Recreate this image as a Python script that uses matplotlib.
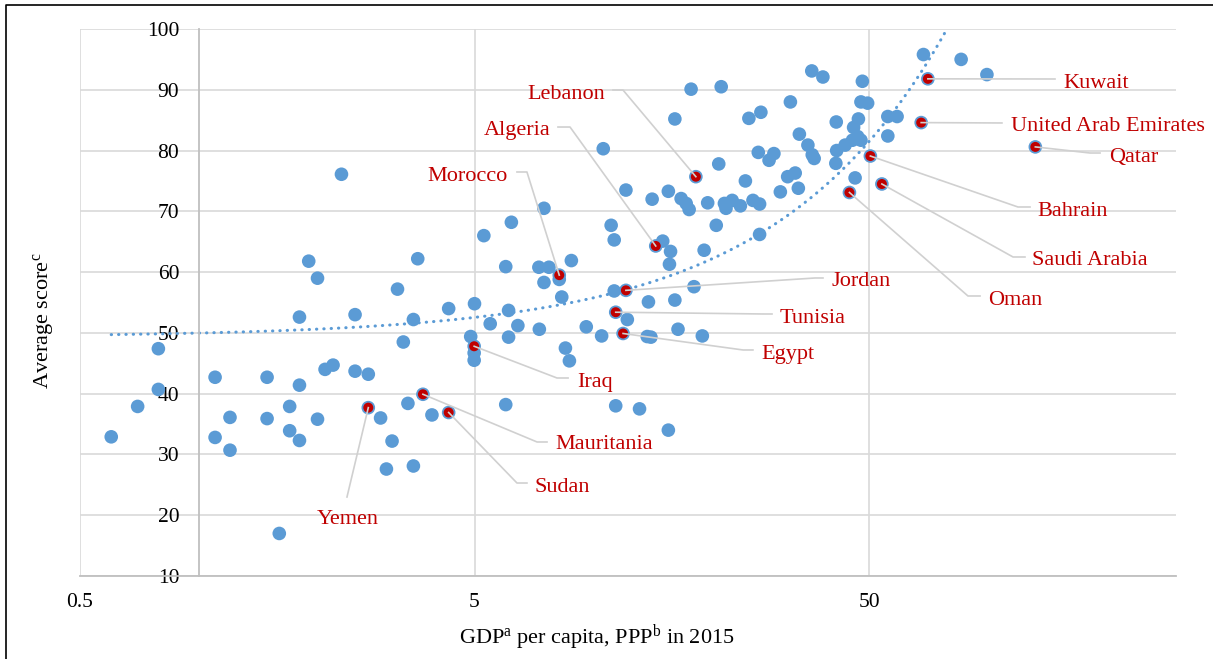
import matplotlib.pyplot as plt
import numpy as np
from matplotlib.lines import Line2D
from matplotlib.ticker import NullLocator

plt.rcParams['font.family'] = ['Liberation Serif', 'DejaVu Serif']
plt.rcParams['mathtext.fontset'] = 'custom'
plt.rcParams['mathtext.rm'] = 'Liberation Serif'
plt.rcParams['mathtext.it'] = 'Liberation Serif:italic'

# ---- data: GDP per capita (PPP, thousand $) and average score ----
other_gdp = [
    0.60, 0.70, 0.79, 0.79, 1.10, 1.10, 1.20, 1.20, 1.49, 1.49,
    1.70, 1.70, 1.80, 1.80, 1.80, 1.90, 2.00, 2.00, 1.60, 2.30,
    3.59, 6.00, 5.28, 3.19, 2.49, 3.50, 4.30, 5.00, 5.48, 6.10,
    6.44, 6.10, 3.30, 4.89, 4.99, 4.99, 2.09, 2.19, 2.49, 2.69,
    3.39, 2.89, 3.90, 3.09, 2.99, 3.50, 6.00, 7.50, 6.20, 12.1,
    14.1, 15.5, 16.7, 17.2, 17.5, 19.5, 21.5, 21.7, 22.5, 23.6,
    20.5, 11.1, 11.3, 15.0, 15.7, 15.6, 19.1, 7.28, 7.72, 8.80,
    8.20, 7.50, 8.32, 7.30, 8.50, 8.70, 9.60, 10.5, 11.3, 12.2,
    13.8, 13.7, 14.0, 16.1, 16.4, 18.0, 18.9, 11.4, 13.1, 15.5,
    10.6, 17.7, 21.1, 16.1, 31.6, 24.8, 26.6, 20.8, 26.2, 28.7,
    27.9, 24.3, 25.4, 26.4, 29.8, 31.1, 32.5, 33.1, 33.3, 26.4,
    35.8, 38.2, 48.1, 47.7, 49.6, 41.3, 47.0, 45.7, 35.0, 46.8,
    47.7, 45.4, 43.5, 41.4, 41.2, 36.3, 35.9, 46.1, 55.8, 58.9,
    55.8, 68.7, 85.6, 99.5,
]
other_score = [
    32.9, 37.9, 47.4, 40.7, 42.7, 32.8, 36.1, 30.7, 42.7, 35.9,
    37.9, 33.9, 41.4, 32.3, 52.6, 61.8, 59.0, 35.8, 17.0, 76.1,
    62.2, 60.9, 66.0, 57.2, 53.0, 52.2, 54.0, 54.8, 51.5, 53.7,
    51.2, 49.3, 48.5, 49.4, 46.7, 45.5, 44.0, 44.7, 43.7, 43.2,
    38.4, 36.0, 36.5, 32.2, 27.6, 28.1, 38.2, 70.5, 68.2, 73.5,
    72.0, 73.3, 72.1, 71.3, 70.3, 71.4, 71.3, 70.5, 71.8, 70.9,
    67.7, 67.7, 65.3, 65.1, 63.4, 61.3, 63.6, 60.8, 60.8, 61.9,
    58.8, 58.3, 55.9, 50.6, 47.5, 45.4, 51.0, 49.5, 56.9, 52.2,
    55.1, 49.4, 49.3, 55.4, 50.6, 57.6, 49.5, 38.0, 37.5, 34.0,
    80.3, 90.1, 90.5, 85.2, 88.0, 85.3, 86.3, 77.8, 79.7, 79.5,
    78.4, 75.0, 71.8, 71.2, 73.2, 75.7, 76.3, 73.8, 82.7, 66.2,
    93.1, 92.1, 91.4, 88.0, 87.8, 84.7, 85.2, 83.8, 80.9, 82.3,
    81.7, 81.7, 80.9, 80.0, 77.9, 78.7, 79.3, 75.5, 85.6, 85.6,
    82.4, 95.8, 95.0, 92.5,
]

arab_names = ['Lebanon', 'Algeria', 'Morocco', 'Jordan', 'Tunisia', 'Egypt',
              'Iraq', 'Mauritania', 'Sudan', 'Yemen', 'Kuwait',
              'United Arab Emirates', 'Qatar', 'Bahrain', 'Saudi Arabia', 'Oman']
arab_gdp = [18.2, 14.4, 8.2, 12.1, 11.4, 11.9, 4.99, 3.70, 4.30, 2.69,
            70.5, 67.8, 132.0, 50.4, 53.9, 44.6]
arab_score = [75.7, 64.3, 59.5, 57.0, 53.4, 49.9, 47.8, 39.9, 36.9, 37.7,
              91.8, 84.6, 80.6, 79.1, 74.5, 73.1]

# label layout in axes fraction: text anchor, ha, leader polyline (elbow, end)
label_layout = {
    'Lebanon':      ((0.479, 0.881), 'right', [(0.4954, 0.8885), (0.4863, 0.8885)]),
    'Algeria':      ((0.429, 0.815), 'right', [(0.4471, 0.8208), (0.4361, 0.8208)]),
    'Morocco':      ((0.3905, 0.731), 'right', [(0.4078, 0.7386), (0.3987, 0.7386)]),
    'Jordan':       ((0.6861, 0.539), 'left', [(0.6706, 0.5448), (0.6779, 0.5448)]),
    'Tunisia':      ((0.6387, 0.4713), 'left', [(0.6232, 0.479), (0.6314, 0.479)]),
    'Egypt':        ((0.6214, 0.4055), 'left', [(0.605, 0.4132), (0.614, 0.4132)]),
    'Iraq':         ((0.4535, 0.3543), 'left', [(0.4352, 0.362), (0.4453, 0.362)]),
    'Mauritania':   ((0.4334, 0.241), 'left', [(0.417, 0.245), (0.4261, 0.245)]),
    'Sudan':        ((0.4151, 0.1624), 'left', [(0.3987, 0.170), (0.4078, 0.170)]),
    'Yemen':        ((0.2445, 0.1039), 'center', [(0.2436, 0.1444)]),
    'Kuwait':       ((0.8969, 0.901), 'left', [(0.8896, 0.9086)]),
    'United Arab Emirates': ((0.8495, 0.8223), 'left', [(0.8412, 0.8282)]),
    'Qatar':        ((0.9389, 0.7657), 'left', [(0.9215, 0.7733), (0.9307, 0.7733)]),
    'Bahrain':      ((0.8732, 0.6669), 'left', [(0.8558, 0.6746), (0.8668, 0.6746)]),
    'Saudi Arabia': ((0.8686, 0.5774), 'left', [(0.8513, 0.5832), (0.8622, 0.5832)]),
    'Oman':         ((0.8285, 0.5042), 'left', [(0.8102, 0.5119), (0.8212, 0.5119)]),
}

C_BLUE = '#5B9BD5'
C_RED = '#C00000'
C_GRID = '#d9d9d9'
C_AXIS = '#bfbfbf'
C_LEAD = '#d0d0d0'

fig = plt.figure(figsize=(12.13, 6.59), dpi=100)
ax = fig.add_axes([80 / 1213, 83 / 659, 1096 / 1213, 547 / 659])

ax.set_xscale('log')
ax.set_xlim(0.5, 300)
ax.set_ylim(10, 100)
ax.set_xticks([0.5, 5, 50])
ax.set_xticklabels(['0.5', '5', '50'])
ax.xaxis.set_minor_locator(NullLocator())
ax.set_yticks(range(10, 101, 10))

ax.grid(True, color=C_GRID, linewidth=1.2)
ax.set_axisbelow(True)
for side in ['top', 'right']:
    ax.spines[side].set_visible(False)
ax.spines['left'].set_position(('data', 1))
for side in ['left', 'bottom']:
    ax.spines[side].set_color(C_AXIS)
    ax.spines[side].set_linewidth(1.3)
ax.tick_params(axis='both', length=0, labelsize=15.5, colors='black')
ax.tick_params(axis='y', pad=14)
ax.tick_params(axis='x', pad=12)

all_gdp = np.array(other_gdp + arab_gdp)
all_score = np.array(other_score + arab_score)

# all countries (blue)
ax.scatter(all_gdp, all_score, s=96, color=C_BLUE, edgecolors='none', zorder=3)

# linear trend line (fitted on all countries)
coef = np.polyfit(all_gdp, all_score, 1)
xs = np.geomspace(all_gdp.min(), all_gdp.max(), 600)
ax.plot(xs, np.polyval(coef, xs), color=C_BLUE, linewidth=2.2,
        linestyle=(0, (0.1, 2.3)), dash_capstyle='round', zorder=2)

# Arab countries highlighted in red
ax.scatter(arab_gdp, arab_score, s=52, color=C_RED, edgecolors='none', zorder=4)

to_axes = ax.transAxes.inverted()
for name, gx, sc in zip(arab_names, arab_gdp, arab_score):
    (tx, ty), ha, path = label_layout[name]
    p = to_axes.transform(ax.transData.transform((gx, sc)))
    pts = [tuple(p)] + path
    ax.plot([q[0] for q in pts], [q[1] for q in pts], transform=ax.transAxes,
            color=C_LEAD, linewidth=1.2, zorder=5, clip_on=False)
    ax.text(tx, ty, name, transform=ax.transAxes, ha=ha, va='center',
            fontsize=16, color=C_RED, zorder=6)

fig.text(44 / 1213, 1 - 321 / 659, 'Average score$^{\\mathrm{c}}$', rotation=90,
         ha='center', va='center', fontsize=16)
fig.text(597 / 1213, 1 - 638 / 659,
         'GDP$^{\\mathrm{a}}$ per capita, PPP$^{\\mathrm{b}}$ in 2015',
         ha='center', va='center', fontsize=16)

# outer frame (top and left edges visible in the original crop)
fig.add_artist(Line2D([6 / 1213, 6 / 1213, 1], [0, 1 - 5 / 659, 1 - 5 / 659],
                      transform=fig.transFigure, color='black', linewidth=1.2))

fig.savefig('out.png', dpi=100, facecolor='white')
